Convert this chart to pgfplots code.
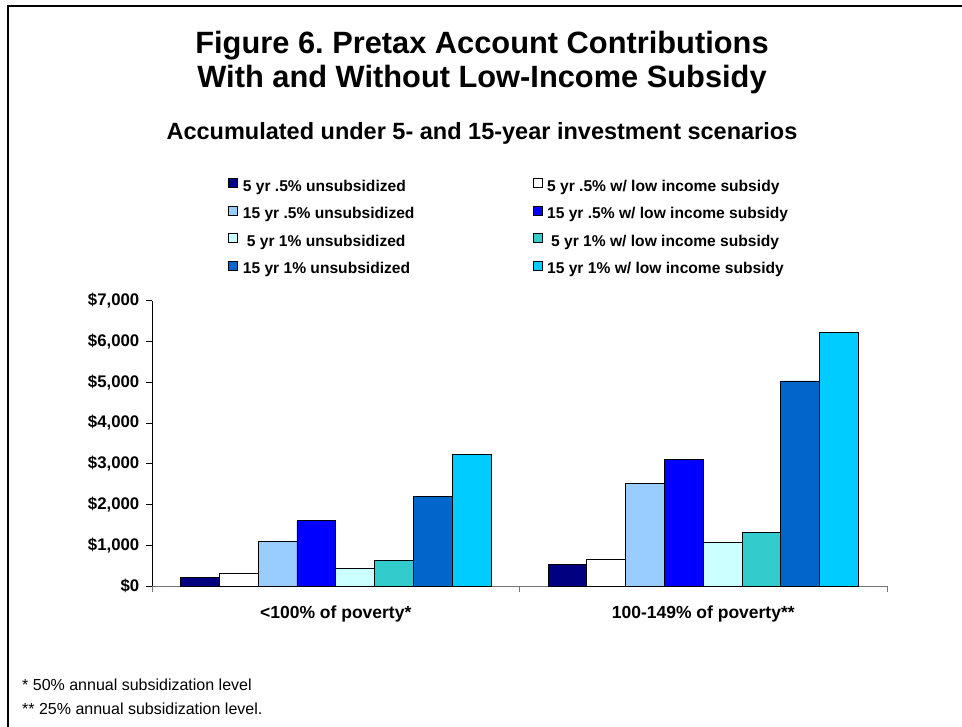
\documentclass[border=0pt]{standalone}
\usepackage{fontspec}
\setmainfont{Liberation Sans}
\usepackage{pgfplots}
\pgfplotsset{compat=1.18}

\definecolor{navyb}{HTML}{000080}
\definecolor{paleb}{HTML}{99CCFF}
\definecolor{pureb}{HTML}{0000FF}
\definecolor{palec}{HTML}{CCFFFF}
\definecolor{tealc}{HTML}{33CCCC}
\definecolor{midb}{HTML}{0066CC}
\definecolor{skyb}{HTML}{00CCFF}

% values: x=0 <100% of poverty, x=1 100-149%
\pgfplotstableread{
x y
0 220
1 530
}\sA
\pgfplotstableread{
x y
0 310
1 655
}\sB
\pgfplotstableread{
x y
0 1090
1 2520
}\sC
\pgfplotstableread{
x y
0 1600
1 3100
}\sD
\pgfplotstableread{
x y
0 430
1 1065
}\sE
\pgfplotstableread{
x y
0 630
1 1320
}\sF
\pgfplotstableread{
x y
0 2190
1 5030
}\sG
\pgfplotstableread{
x y
0 3220
1 6215
}\sH

\begin{document}
\frenchspacing
\begin{tikzpicture}
\path[use as bounding box] (0pt,0pt) rectangle (962pt,-727pt);
\draw[line width=2pt] (8pt,-727pt) -- (8pt,-6pt) -- (962pt,-6pt);

\node[anchor=base, font=\bfseries\fontsize{30.8}{34}\selectfont] at (482pt,-54pt) {Figure 6. Pretax Account Contributions};
\node[anchor=base, font=\bfseries\fontsize{30.8}{34}\selectfont] at (482pt,-88pt) {With and Without Low-Income Subsidy};
\node[anchor=base, font=\bfseries\fontsize{23.5}{27}\selectfont] at (482pt,-140pt) {Accumulated under 5- and 15-year investment scenarios};

\begin{axis}[
  at={(152pt,-586pt)}, anchor=south west,
  scale only axis, width=735pt, height=285.4pt,
  xmin=-0.5, xmax=1.5, ymin=0, ymax=7000,
  ybar=0pt, bar width=38.8pt,
  axis lines=left, axis line style={-},
  x axis line style={draw=black!55},
  tick align=outside, major tick length=5.5pt,
  xtick={-0.5,0.5,1.5}, xticklabels={},
  xtick style={draw=black!55, line width=0.8pt},
  ytick={0,1000,...,7000},
  ytick style={draw=black, line width=0.6pt},
  yticklabels={{\$0},{\$1,000},{\$2,000},{\$3,000},{\$4,000},{\$5,000},{\$6,000},{\$7,000}},
  yticklabel style={font=\bfseries\fontsize{16.8}{19}\selectfont, inner sep=0pt, xshift=-7pt},
  clip=false,
  every axis plot/.append style={draw=black, line width=0.8pt},
  legend columns=2,
  legend image code/.code={\draw[#1, draw=black, line width=0.6pt] (0pt,0pt) rectangle (9pt,9pt);},
  legend style={at={(0.1035,1.4303)}, anchor=north west, draw=none, fill=none,
    inner sep=0pt, row sep=10.7pt,
    font=\bfseries\fontsize{15.6}{18}\selectfont,
    nodes={inner sep=0pt, text height=11.5pt, text depth=3.5pt},
    /tikz/every odd column/.append style={column sep=5pt},
    /tikz/every even column/.append style={column sep=118pt}},
  legend cell align=left,
]
\addplot[fill=navyb] table {\sA};
\addplot[fill=white] table {\sB};
\addplot[fill=paleb] table {\sC};
\addplot[fill=pureb] table {\sD};
\addplot[fill=palec] table {\sE};
\addplot[fill=tealc] table {\sF};
\addplot[fill=midb] table {\sG};
\addplot[fill=skyb] table {\sH};
\legend{5 yr .5\% unsubsidized, 5 yr .5\% w/ low income subsidy,
  15 yr .5\% unsubsidized, 15 yr .5\% w/ low income subsidy,
  \hspace{4pt}5 yr 1\% unsubsidized, \hspace{4pt}5 yr 1\% w/ low income subsidy,
  15 yr 1\% unsubsidized, 15 yr 1\% w/ low income subsidy}
\node[anchor=base, font=\bfseries\fontsize{17.5}{20}\selectfont] at (axis cs:0,0) [yshift=-32pt] {<100\% of poverty*};
\node[anchor=base, font=\bfseries\fontsize{17.5}{20}\selectfont] at (axis cs:1,0) [yshift=-32pt] {100-149\% of poverty**};
\end{axis}

\node[anchor=base west, inner sep=0pt, font=\fontsize{16}{19}\selectfont] at (22pt,-690pt) {* 50\% annual subsidization level};
\node[anchor=base west, inner sep=0pt, font=\fontsize{16}{19}\selectfont] at (22pt,-714pt) {** 25\% annual subsidization level.};
\end{tikzpicture}
\end{document}
